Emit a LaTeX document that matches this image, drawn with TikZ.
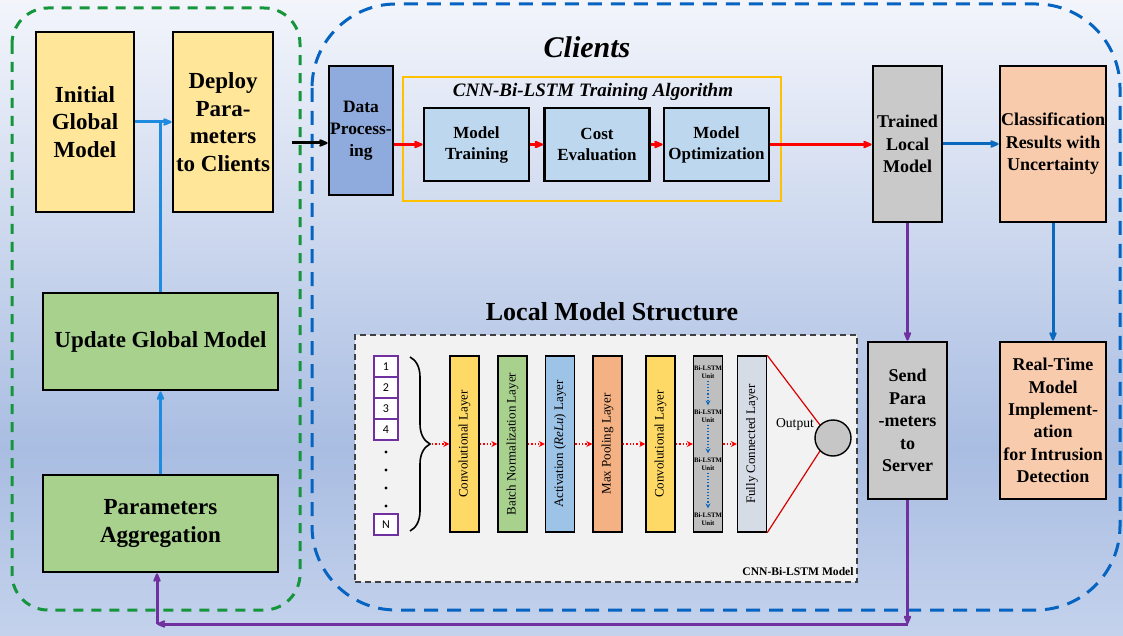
\documentclass[tikz,border=0pt]{standalone}
\usepackage{graphicx}
\usepackage{fontspec}
\setmainfont{Liberation Serif}
\newfontfamily\digfont{Carlito}
\usetikzlibrary{arrows.meta,positioning,decorations.pathreplacing}
\definecolor{bgtop}{HTML}{F3F5FB}
\definecolor{bgmid}{HTML}{A9BDE2}
\definecolor{bgbot}{HTML}{C4D2EC}
\definecolor{ylw}{HTML}{FFE699}
\definecolor{grn}{HTML}{A9D18E}
\definecolor{dblu}{HTML}{8FAADC}
\definecolor{lblu}{HTML}{BDD7EE}
\definecolor{gry}{HTML}{C9C9C9}
\definecolor{pch}{HTML}{F8CBAD}
\definecolor{org}{HTML}{FFC000}
\definecolor{gdash}{HTML}{16963C}
\definecolor{bdash}{HTML}{0563C1}
\definecolor{skyb}{HTML}{1E8BE0}
\definecolor{navb}{HTML}{0A68BE}
\definecolor{prp}{HTML}{7030A0}
\definecolor{lconv}{HTML}{FFD966}
\definecolor{lact}{HTML}{9DC3E6}
\definecolor{lpool}{HTML}{F4B183}
\definecolor{llstm}{HTML}{BFBFBF}
\definecolor{lfc}{HTML}{D6DCE5}
\begin{document}
\begin{tikzpicture}[x=0.5pt,y=-0.5pt,>={Stealth[round,length=6pt,width=5pt]},
  b/.style={draw,line width=1.4pt,align=center,inner sep=0pt,font=\fontsize{9}{11.2}\selectfont\bfseries},
  big/.style={b,font=\fontsize{11.5}{13.8}\selectfont\bfseries},
  mb/.style={b,fill=lblu,minimum width=52.5pt,minimum height=36.5pt,font=\fontsize{8.5}{10.5}\selectfont\bfseries},
  ly/.style={draw,line width=.7pt,inner sep=0pt,minimum width=14.5pt,minimum height=88pt,font=\fontsize{6.5}{7}\selectfont},
  inb/.style={draw=prp,line width=.7pt,fill=white,inner sep=0pt,minimum width=12pt,minimum height=10.5pt,font=\digfont\fontsize{6}{6}\selectfont},
  unit/.style={align=center,inner sep=0pt,font=\fontsize{3.4}{3.8}\selectfont\bfseries},
  bl/.style={->,line width=1.5pt,skyb},
  nb/.style={->,line width=1.5pt,navb},
  pu/.style={->,line width=1.5pt,prp},
  rd/.style={->,line width=1.5pt,red},
  rdd/.style={-{Stealth[length=3pt,width=3pt]},line width=.7pt,red,densely dotted},
  bdd/.style={-{Stealth[length=2.5pt,width=2.5pt]},line width=.6pt,navb,densely dotted,shorten <=1pt,shorten >=2pt}]
% background
\fill[top color=bgtop,bottom color=bgmid] (0,0) rectangle (1123,450);
\fill[top color=bgmid,bottom color=bgbot] (0,450) rectangle (1123,636);
\useasboundingbox (0,0) rectangle (1123,636);
% server and clients frames
\draw[gdash,line width=1.5pt,dash pattern=on 5pt off 4pt,rounded corners=18pt] (12,8) rectangle (300,610);
\draw[bdash,line width=1.5pt,dash pattern=on 7pt off 4.5pt,rounded corners=42pt] (312,4) rectangle (1120,610);
% server side
\node[big,fill=ylw,minimum width=49pt,minimum height=90pt] (init) at (85,122) {Initial\\Global\\Model};
\node[big,fill=ylw,minimum width=50pt,minimum height=90pt] (deploy) at (223,122) {Deploy\\Para-\\meters\\to Clients};
\node[big,fill=grn,minimum width=117.5pt,minimum height=48.5pt] (update) at (160.5,341.5) {Update Global Model};
\node[big,fill=grn,minimum width=117.5pt,minimum height=48.5pt] (agg) at (160.5,523.5) {Parameters\\Aggregation};
\draw[bl] (init) -- (deploy);
\draw[skyb,line width=1.5pt] (update.north) -- (update.north |- init.east);
\draw[bl] (agg) -- (update);
% clients
\node[font=\fontsize{15}{18}\selectfont\bfseries\itshape] (cl) at (587,47) {Clients};
\node[b,fill=dblu,minimum width=32pt,minimum height=64.5pt,font=\fontsize{8.7}{11}\selectfont\bfseries] (data) at (361,130.5) {Data\\Process-\\ing};
\node[draw=org,line width=1.2pt,minimum width=189pt,minimum height=62pt] (algo) at (592,139) {};
\node[font=\fontsize{9.5}{11}\selectfont\bfseries\itshape] (algot) at (593,92) {CNN-Bi-LSTM Training Algorithm};
\node[mb] (train) at (476.5,144.5) {Model\\Training};
\node[mb] (cost) at (597,144.5) {Cost\\Evaluation};
\node[mb] (opt) at (716.5,144.5) {Model\\Optimization};
\node[b,fill=gry,minimum width=34.5pt,minimum height=78pt] (trained) at (907.5,144) {Trained\\Local\\Model};
\node[b,fill=pch,minimum width=53pt,minimum height=78pt] (classif) at (1053,144) {Classification\\Results with\\Uncertainty};
\node[b,fill=gry,minimum width=39.5pt,minimum height=78.5pt] (send) at (907.5,420.5) {Send\\Para\\-meters\\to\\Server};
\node[b,fill=pch,minimum width=53pt,minimum height=78.5pt] (rtime) at (1053,420.5) {Real-Time\\Model\\Implement-\\ation\\for Intrusion\\Detection};
\coordinate (dpout) at (292,143);
\draw[->,line width=1.5pt] (dpout) -- (dpout -| data.west);
\draw[rd] (data.east |- train) -- (train);
\foreach \x/\y in {train/cost,cost/opt} \draw[rd] (\x)--(\y);
\draw[rd] (opt.east) -- (opt.east -| trained.west);
\draw[nb] (trained) -- (classif);
\draw[nb] (classif) -- (rtime);
\draw[pu] (trained) -- (send);
\coordinate (c1) at (907.5,624);
\coordinate (c2) at (157,624);
\draw[pu] (send) -- (c1);
\draw[pu] (c1) -- (c2);
\draw[pu] (c2) -- (c2 |- agg.south);
% local model structure
\node[font=\fontsize{13}{15}\selectfont\bfseries] (lmt) at (612,312) {Local Model Structure};
\node[draw=black!75,densely dashed,line width=.6pt,fill=gray!10,minimum width=251pt,minimum height=123.5pt,inner sep=0pt] (panel) at (606,458.5) {};
\foreach \t/\y in {1/366.5,2/387.5,3/408.5,4/429.5,N/524.5} \node[inb] (in\t) at (386,\y) {\t};
\foreach \y in {452,470,488,506} \fill (386,\y) circle (0.8pt);
\draw[line width=.8pt,decorate,decoration={brace,amplitude=10pt}] (410,357) -- (410,531);
\coordinate (bt) at (432,444);
\foreach \nm/\xx/\col/\txt in {cv1/464.5/lconv/Convolutional Layer,bn/512.5/grn/Batch Normalization Layer,
  act/560/lact/Activation (\textit{ReLu}) Layer,mp/607.5/lpool/Max Pooling Layer,cv2/660.5/lconv/Convolutional Layer,
  fc/752/lfc/Fully Connected Layer}
  \node[ly,fill=\col] (\nm) at (\xx,444) {\rotatebox{90}{\txt}};
\node[ly,fill=llstm] (lstm) at (708,444) {};
\foreach \i/\y in {1/372,2/416,3/464,4/519} \node[unit] (u\i) at (708,\y) {Bi-LSTM\\Unit};
\foreach \x/\y in {u1/u2,u2/u3,u3/u4} \draw[bdd] (\x)--(\y);
\foreach \x/\y in {bt/cv1,cv1/bn,bn/act,act/mp,mp/cv2,cv2/lstm,lstm/fc} \draw[rdd] (\x)--(\y);
\node[circle,draw,line width=.7pt,fill=gray!45,minimum size=18pt,inner sep=0pt] (out) at (833,438) {};
\node[font=\fontsize{6.8}{8}\selectfont] (outl) at (795,424) {Output};
\draw[red!85!black,line width=.6pt] (fc.north east) -- (out.135);
\draw[red!85!black,line width=.6pt] (fc.south east) -- (out.225);
\node[font=\fontsize{5.8}{6}\selectfont\bfseries] (mdl) at (798,572) {CNN-Bi-LSTM Model};
\end{tikzpicture}
\end{document}
